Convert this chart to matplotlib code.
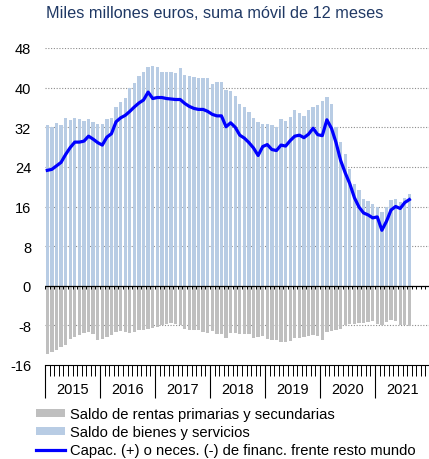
import numpy as np
import matplotlib
matplotlib.use("Agg")
import matplotlib.pyplot as plt
from matplotlib.patches import Patch
from matplotlib.lines import Line2D
from matplotlib.transforms import blended_transform_factory

plt.rcParams['font.family'] = ['Liberation Sans', 'DejaVu Sans']

# Datos mensuales ene-2015 a ago-2021, suma movil 12 meses (mm EUR)
years = ['2015', '2016', '2017', '2018', '2019', '2020', '2021']

bienes_servicios = [
    32.5, 32.1, 32.9, 32.5, 33.9, 33.4, 33.9, 33.7, 33.3, 33.7, 33.1, 32.7,
    32.6, 33.7, 33.9, 36.0, 37.0, 38.0, 40.0, 41.0, 42.3, 43.1, 44.1, 44.4,
    44.2, 43.2, 43.1, 43.2, 43.0, 44.0, 42.5, 42.4, 42.2, 42.0, 42.0, 42.0,
    40.8, 41.1, 41.1, 39.5, 39.4, 38.3, 36.6, 36.1, 35.1, 33.9, 33.1, 32.7,
    32.7, 32.5, 32.1, 33.7, 33.2, 34.0, 35.4, 34.9, 34.3, 35.5, 36.1, 36.4,
    37.2, 38.2, 36.6, 32.1, 29.0, 26.7, 23.6, 20.6, 19.3, 17.6, 17.1, 16.6,
    15.9, 14.9, 15.9, 17.3, 17.6, 16.9, 17.7, 18.5,
]

rentas = [
    -13.7, -13.3, -12.9, -12.4, -11.9, -10.7, -10.4, -10.0, -9.5, -9.4, -9.7, -11.0,
    -10.7, -10.4, -10.0, -9.4, -9.2, -9.4, -9.5, -9.4, -9.0, -9.0, -8.7, -8.5,
    -8.4, -8.0, -7.7, -7.5, -7.7, -8.0, -8.7, -9.0, -9.0, -9.0, -9.4, -9.5,
    -9.2, -9.7, -9.7, -10.6, -9.5, -9.5, -9.7, -9.7, -9.7, -10.6, -10.4, -10.2,
    -10.7, -11.0, -11.0, -11.4, -11.4, -11.1, -10.6, -10.6, -10.4, -10.2, -10.0, -10.2,
    -11.0, -9.4, -9.2, -8.9, -8.7, -8.0, -7.7, -7.7, -7.5, -7.5, -7.4, -7.1,
    -7.7, -8.0, -7.3, -7.0, -7.2, -7.9, -8.0, -8.2,
]

capacidad = [
    23.3, 23.5, 24.2, 24.9, 26.5, 27.9, 29.0, 29.0, 29.2, 30.2, 29.6, 28.9,
    28.4, 30.0, 30.7, 33.1, 33.9, 34.4, 35.2, 36.1, 36.9, 37.5, 39.1, 37.8,
    38.0, 38.0, 37.8, 37.7, 37.6, 37.6, 36.8, 36.2, 35.8, 35.6, 35.6, 35.2,
    34.6, 34.3, 34.3, 32.1, 32.9, 32.0, 30.4, 29.8, 28.9, 27.8, 26.3, 28.1,
    28.5, 27.5, 27.3, 28.4, 28.2, 29.3, 30.2, 30.4, 29.9, 30.6, 31.8, 30.5,
    30.3, 33.5, 31.8, 28.9, 25.3, 22.8, 20.6, 17.8, 15.9, 14.7, 14.3, 13.7,
    13.9, 11.2, 13.0, 15.3, 16.0, 15.6, 16.8, 17.4,
]

yticks = [48, 40, 32, 24, 16, 8, 0, -8, -16]

c_bienes = '#b8cce4'
c_rentas = '#bfbfbf'
c_linea = '#0000ff'

x = np.arange(len(bienes_servicios))
n_meses = 12 * len(years)

fig = plt.figure(figsize=(4.29, 4.60), dpi=100)
ax = fig.add_axes([45 / 429, 1 - 366 / 460, 385 / 429, 317 / 460])

ax.bar(x, bienes_servicios, width=0.72, color=c_bienes, zorder=2)
ax.bar(x, rentas, width=0.72, color=c_rentas, zorder=2)
ax.plot(x, capacidad, color=c_linea, lw=2.3, zorder=4, solid_joinstyle='round')

ax.set_xlim(-0.5, n_meses - 0.5)
ax.set_ylim(-16, 48)

# rejilla punteada
for v in yticks:
    if v not in (0, -16):
        ax.axhline(v, color='#8c8c8c', lw=0.8, ls=(0, (1, 1.5)), zorder=1)

# eje cero con marcas mensuales
ax.axhline(0, color='black', lw=0.9, zorder=3)
ax.vlines(np.arange(n_meses) - 0.5, -0.6, 0, color='black', lw=0.7, zorder=3)

ax.set_yticks(yticks)
ax.set_yticklabels([str(v) for v in yticks], fontsize=10.5)
ax.tick_params(axis='y', length=0, pad=10)

ax.set_xticks(np.arange(0, n_meses + 1, 12) - 0.5)
ax.set_xticks(np.arange(n_meses + 1) - 0.5, minor=True)
ax.set_xticklabels([])
ax.tick_params(axis='x', which='major', length=24, width=0.8, color='black')
ax.tick_params(axis='x', which='minor', length=8, width=0.7, color='black')

for s in ['left', 'right', 'top']:
    ax.spines[s].set_visible(False)
ax.spines['bottom'].set_linewidth(0.8)

trans = blended_transform_factory(ax.transData, ax.transAxes)
for k, yr in enumerate(years):
    ax.text(12 * k + 5.5, -0.076, yr, transform=trans, ha='center', va='center',
            fontsize=10.5)

fig.text(46 / 429, 1 - 14 / 460, 'Miles millones euros, suma móvil de 12 meses',
         color='#1f3864', fontsize=11.7, va='center', ha='left')

handles = [
    Patch(facecolor=c_rentas, edgecolor='none'),
    Patch(facecolor=c_bienes, edgecolor='none'),
    Line2D([], [], color=c_linea, lw=2.3),
]
labels = [
    'Saldo de rentas primarias y secundarias',
    'Saldo de bienes y servicios',
    'Capac. (+) o neces. (-) de financ. frente resto mundo',
]
fig.legend(handles, labels, loc='upper left', bbox_to_anchor=(36 / 429, 1 - 408 / 460),
           frameon=False, fontsize=10.6, handlelength=2.0, handleheight=0.5,
           handletextpad=0.3, labelspacing=0.28, borderpad=0, borderaxespad=0)

fig.savefig('out.png', dpi=100)
